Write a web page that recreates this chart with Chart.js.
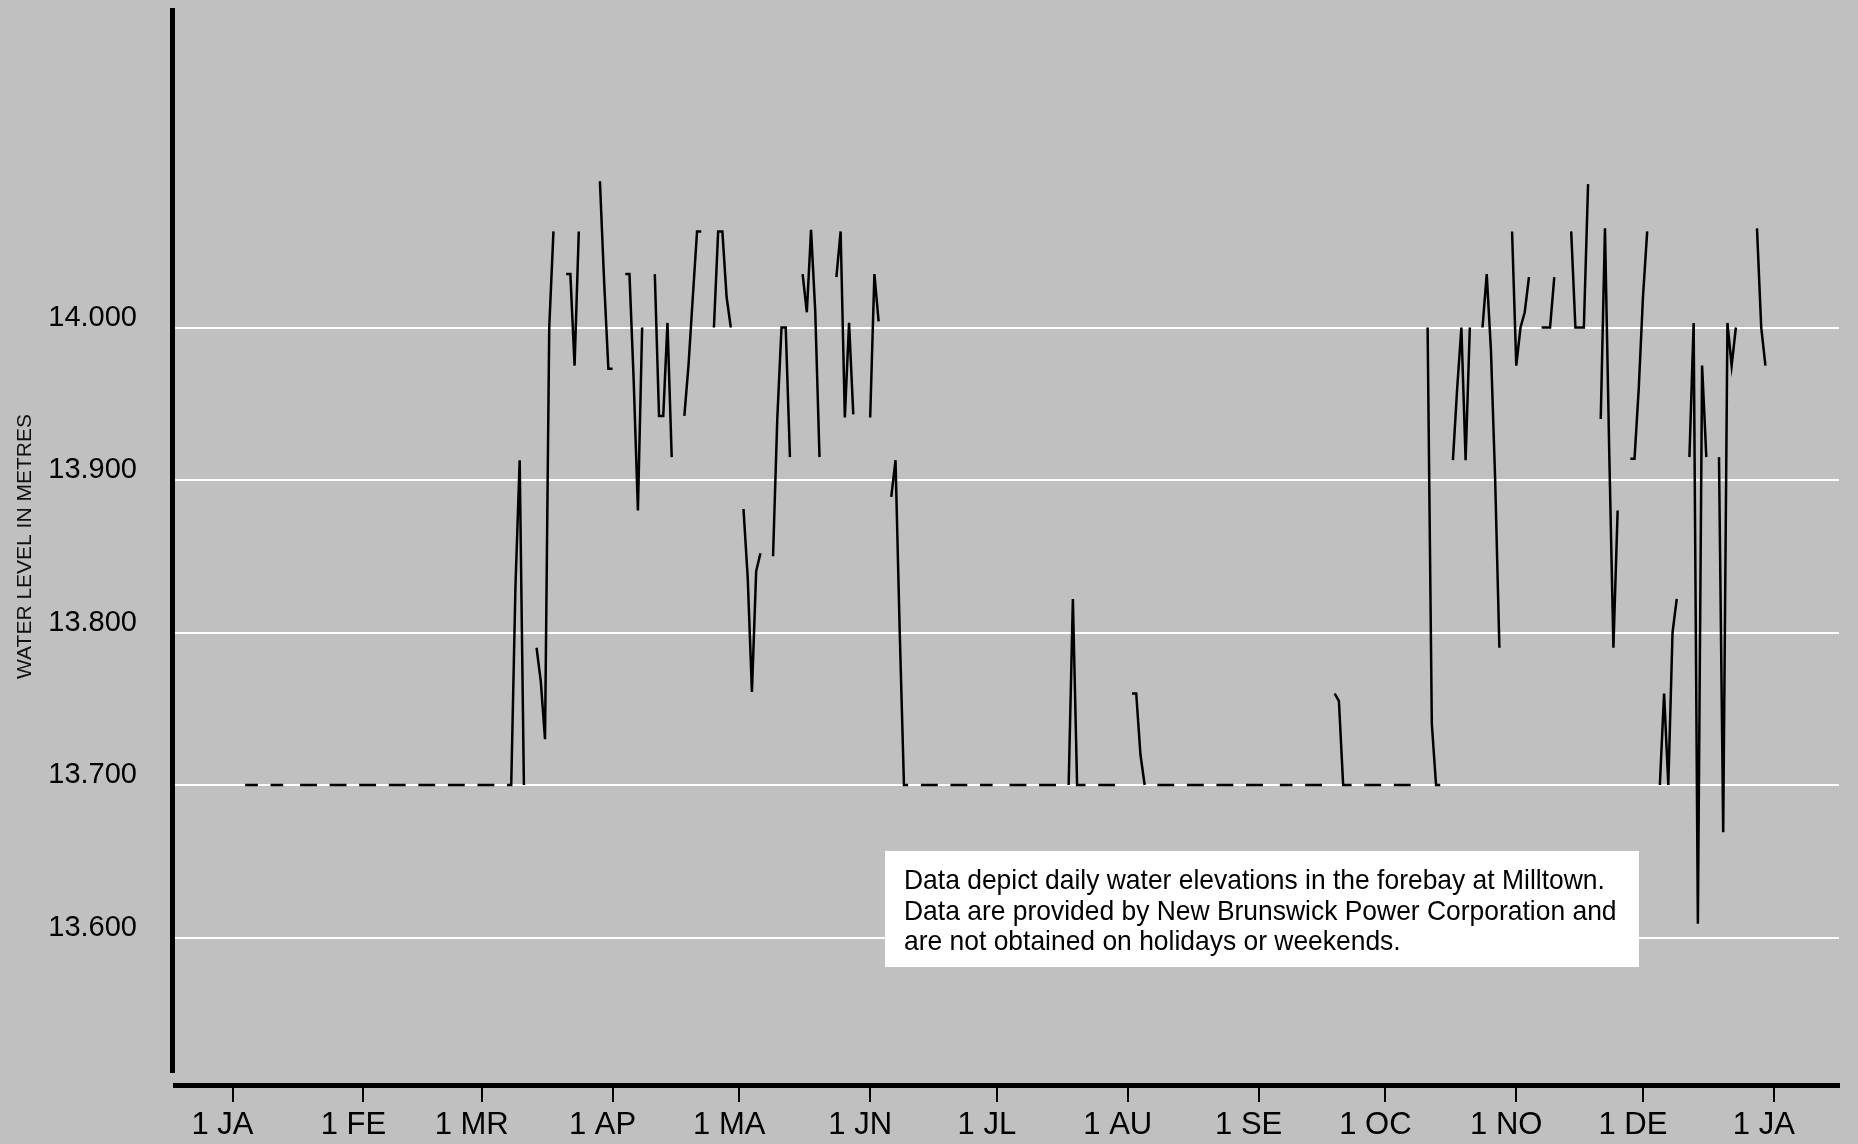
<!DOCTYPE html>
<html>
<head>
<meta charset="utf-8">
<script src="https://cdn.jsdelivr.net/npm/chart.js@4.4.1/dist/chart.umd.min.js"></script>
<style>
  html, body { margin: 0; padding: 0; background: #c0c0c0; }
  canvas { display: block; }
</style>
</head>
<body>
<canvas id="grafica" width="1858" height="1144"></canvas>
<script>
// 2005, one row per week, day 0 = Sat 1 Jan. Columns: Sat Sun Mon Tue Wed Thu Fri
const _ = null;
const levels = [
  _, _, _,      13.70,  13.70,  13.70,  13.70,   // 1 Jan
  _, _, 13.70,  13.70,  13.70,  13.70,  _,       // 8 Jan
  _, _, 13.70,  13.70,  13.70,  13.70,  13.70,   // 15 Jan
  _, _, 13.70,  13.70,  13.70,  13.70,  13.70,   // 22 Jan
  _, _, 13.70,  13.70,  13.70,  13.70,  13.70,   // 29 Jan
  _, _, 13.70,  13.70,  13.70,  13.70,  13.70,   // 5 Feb
  _, _, 13.70,  13.70,  13.70,  13.70,  13.70,   // 12 Feb
  _, _, 13.70,  13.70,  13.70,  13.70,  13.70,   // 19 Feb
  _, _, 13.70,  13.70,  13.70,  13.70,  13.70,   // 26 Feb
  _, _, 13.70,  13.70,  13.83,  13.913, 13.70,   // 5 Mar
  _, _, 13.79,  13.768, 13.73,  14.00,  14.063,  // 12 Mar
  _, _, 14.035, 14.035, 13.975, 14.063, _,       // 19 Mar
  _, _, _,      14.096, 14.03,  13.973, 13.973,  // 26 Mar
  _, _, 14.035, 14.035, 13.965, 13.88,  14.00,   // 2 Apr
  _, _, 14.035, 13.942, 13.942, 14.003, 13.915,  // 9 Apr
  _, _, 13.942, 13.976, 14.02,  14.063, 14.063,  // 16 Apr
  _, _, 14.00,  14.063, 14.063, 14.02,  14.00,   // 23 Apr
  _, _, 13.881, 13.836, 13.761, 13.84,  13.852,  // 30 Apr
  _, _, 13.85,  13.94,  14.00,  14.00,  13.915,  // 7 May
  _, _, 14.035, 14.01,  14.064, 14.01,  13.915,  // 14 May
  _, _, _,      14.033, 14.063, 13.941, 14.003,  // 21 May
  13.943, _, _, _,      13.941, 14.035, 14.004,  // 28 May
  _, _, 13.889, 13.913, 13.80,  13.70,  13.70,   // 4 Jun
  _, _, 13.70,  13.70,  13.70,  13.70,  13.70,   // 11 Jun
  _, _, 13.70,  13.70,  13.70,  13.70,  13.70,   // 18 Jun
  _, _, 13.70,  13.70,  13.70,  13.70,  _,       // 25 Jun
  _, _, 13.70,  13.70,  13.70,  13.70,  13.70,   // 2 Jul
  _, _, 13.70,  13.70,  13.70,  13.70,  13.70,   // 9 Jul
  _, _, 13.70,  13.822, 13.70,  13.70,  13.70,   // 16 Jul
  _, _, 13.70,  13.70,  13.70,  13.70,  13.70,   // 23 Jul
  _, _, _,      13.76,  13.76,  13.72,  13.70,   // 30 Jul
  _, _, 13.70,  13.70,  13.70,  13.70,  13.70,   // 6 Aug
  _, _, 13.70,  13.70,  13.70,  13.70,  13.70,   // 13 Aug
  _, _, 13.70,  13.70,  13.70,  13.70,  13.70,   // 20 Aug
  _, _, 13.70,  13.70,  13.70,  13.70,  13.70,   // 27 Aug
  _, _, _,      13.70,  13.70,  13.70,  13.70,   // 3 Sep
  _, _, 13.70,  13.70,  13.70,  13.70,  13.70,   // 10 Sep
  _, _, 13.76,  13.755, 13.70,  13.70,  13.70,   // 17 Sep
  _, _, 13.70,  13.70,  13.70,  13.70,  13.70,   // 24 Sep
  _, _, 13.70,  13.70,  13.70,  13.70,  13.70,   // 1 Oct
  _, _, _,      14.00,  13.74,  13.70,  13.70,   // 8 Oct
  _, _, 13.913, 13.96,  14.00,  13.913, 14.00,   // 15 Oct
  _, _, 14.00,  14.035, 13.985, 13.90,  13.79,   // 22 Oct
  _, _, 14.063, 13.975, 14.00,  14.01,  14.033,  // 29 Oct
  _, _, 14.00,  14.00,  14.00,  14.033, _,       // 5 Nov
  _, _, 14.063, 14.00,  14.00,  14.00,  14.094,  // 12 Nov
  _, _, 13.94,  14.065, 13.92,  13.79,  13.88,   // 19 Nov
  _, _, 13.914, 13.914, 13.96,  14.02,  14.063,  // 26 Nov
  _, _, 13.70,  13.76,  13.70,  13.80,  13.822,  // 3 Dec
  _, _, 13.915, 14.003, 13.609, 13.975, 13.915,  // 10 Dec
  _, _, 13.915, 13.669, 14.003, 13.975, 14.00,   // 17 Dec
  _, _, _,      _,      14.065, 14.00,  13.975,  // 24 Dec
  _                                              // 31 Dec
];
const days = levels.map((v, i) => i);

const monthStarts = [0, 31, 59, 90, 120, 151, 181, 212, 243, 273, 304, 334, 365];
const monthLabels = ["1 JA", "1 FE", "1 MR", "1 AP", "1 MA", "1 JN", "1 JL", "1 AU", "1 SE", "1 OC", "1 NO", "1 DE", "1 JA"];
const levelTicks = [13.6, 13.7, 13.8, 13.9, 14.0];
const nota = [
  "Data depict daily water elevations in the forebay at Milltown.",
  "Data are provided by New Brunswick Power Corporation and",
  "are not obtained on holidays or weekends."
];

const familia = "'Liberation Sans', Arial, sans-serif";

// thick y axis line (stops a little above the x axis) + note box
const decoraciones = {
  id: "decoraciones",
  afterDraw(chart) {
    const ctx = chart.ctx;
    const area = chart.chartArea;
    ctx.save();
    ctx.fillStyle = "#000";
    ctx.fillRect(area.left - 5, area.top, 5, area.bottom - area.top - 12);

    ctx.fillStyle = "#fff";
    ctx.fillRect(885, 851, 754, 116);
    ctx.fillStyle = "#000";
    ctx.font = "28px " + familia;
    ctx.textBaseline = "alphabetic";
    nota.forEach(function (linea, i) {
      ctx.save();
      ctx.translate(904, 889 + i * 30.5);
      ctx.scale(0.944, 1);
      ctx.fillText(linea, 0, 0);
      ctx.restore();
    });
    ctx.restore();
  }
};

const fondo = {
  id: "fondo",
  beforeDraw(chart) {
    const ctx = chart.ctx;
    ctx.save();
    ctx.fillStyle = "#c0c0c0";
    ctx.fillRect(0, 0, chart.width, chart.height);
    ctx.restore();
  }
};

const data = {
  labels: days,
  datasets: [{
    label: "Water level",
    data: levels,
    borderColor: "#000",
    borderWidth: 2.5,
    pointRadius: 0,
    tension: 0,
    spanGaps: false,
    fill: false
  }]
};

const config = {
  type: "line",
  data: data,
  plugins: [fondo, decoraciones],
  options: {
    responsive: false,
    animation: false,
    layout: { padding: { top: 8, right: 19, left: 0, bottom: 0 } },
    plugins: {
      legend: { display: false },
      tooltip: { enabled: false }
    },
    scales: {
      x: {
        type: "linear",
        min: -13.62,
        max: 380.42,
        afterBuildTicks: function (scale) {
          scale.ticks = monthStarts.map(v => ({ value: v }));
        },
        afterFit: function (scale) {
          scale.height = 59;
          scale.paddingLeft = 0;
          scale.paddingRight = 0;
        },
        ticks: {
          autoSkip: false,
          maxRotation: 0,
          color: "#000",
          font: { family: familia, size: 31 },
          padding: 5,
          labelOffset: -10,
          callback: function (value) {
            return monthLabels[monthStarts.indexOf(value)];
          }
        },
        grid: {
          drawOnChartArea: false,
          drawTicks: true,
          tickLength: 17,
          color: "#000",
          lineWidth: 2
        },
        border: { display: true, color: "#000", width: 5 }
      },
      y: {
        min: 13.5033,
        max: 14.2095,
        afterBuildTicks: function (scale) {
          scale.ticks = levelTicks.map(v => ({ value: v }));
        },
        afterFit: function (scale) {
          scale.width = 175;
          scale.paddingTop = 0;
          scale.paddingBottom = 0;
        },
        ticks: {
          color: "#000",
          font: { family: familia, size: 29 },
          padding: 38,
          labelOffset: -10,
          callback: function (value) { return value.toFixed(3); }
        },
        grid: {
          drawTicks: false,
          color: "#ffffff",
          lineWidth: 2
        },
        border: { display: false },
        title: {
          display: true,
          text: "WATER LEVEL IN METRES",
          color: "#111",
          font: { family: familia, size: 21 },
          padding: { top: 13, bottom: 0 }
        }
      }
    }
  }
};

const ctx = document.querySelector("#grafica");
const graficaNivel = new Chart(ctx, config);
</script>
</body>
</html>
